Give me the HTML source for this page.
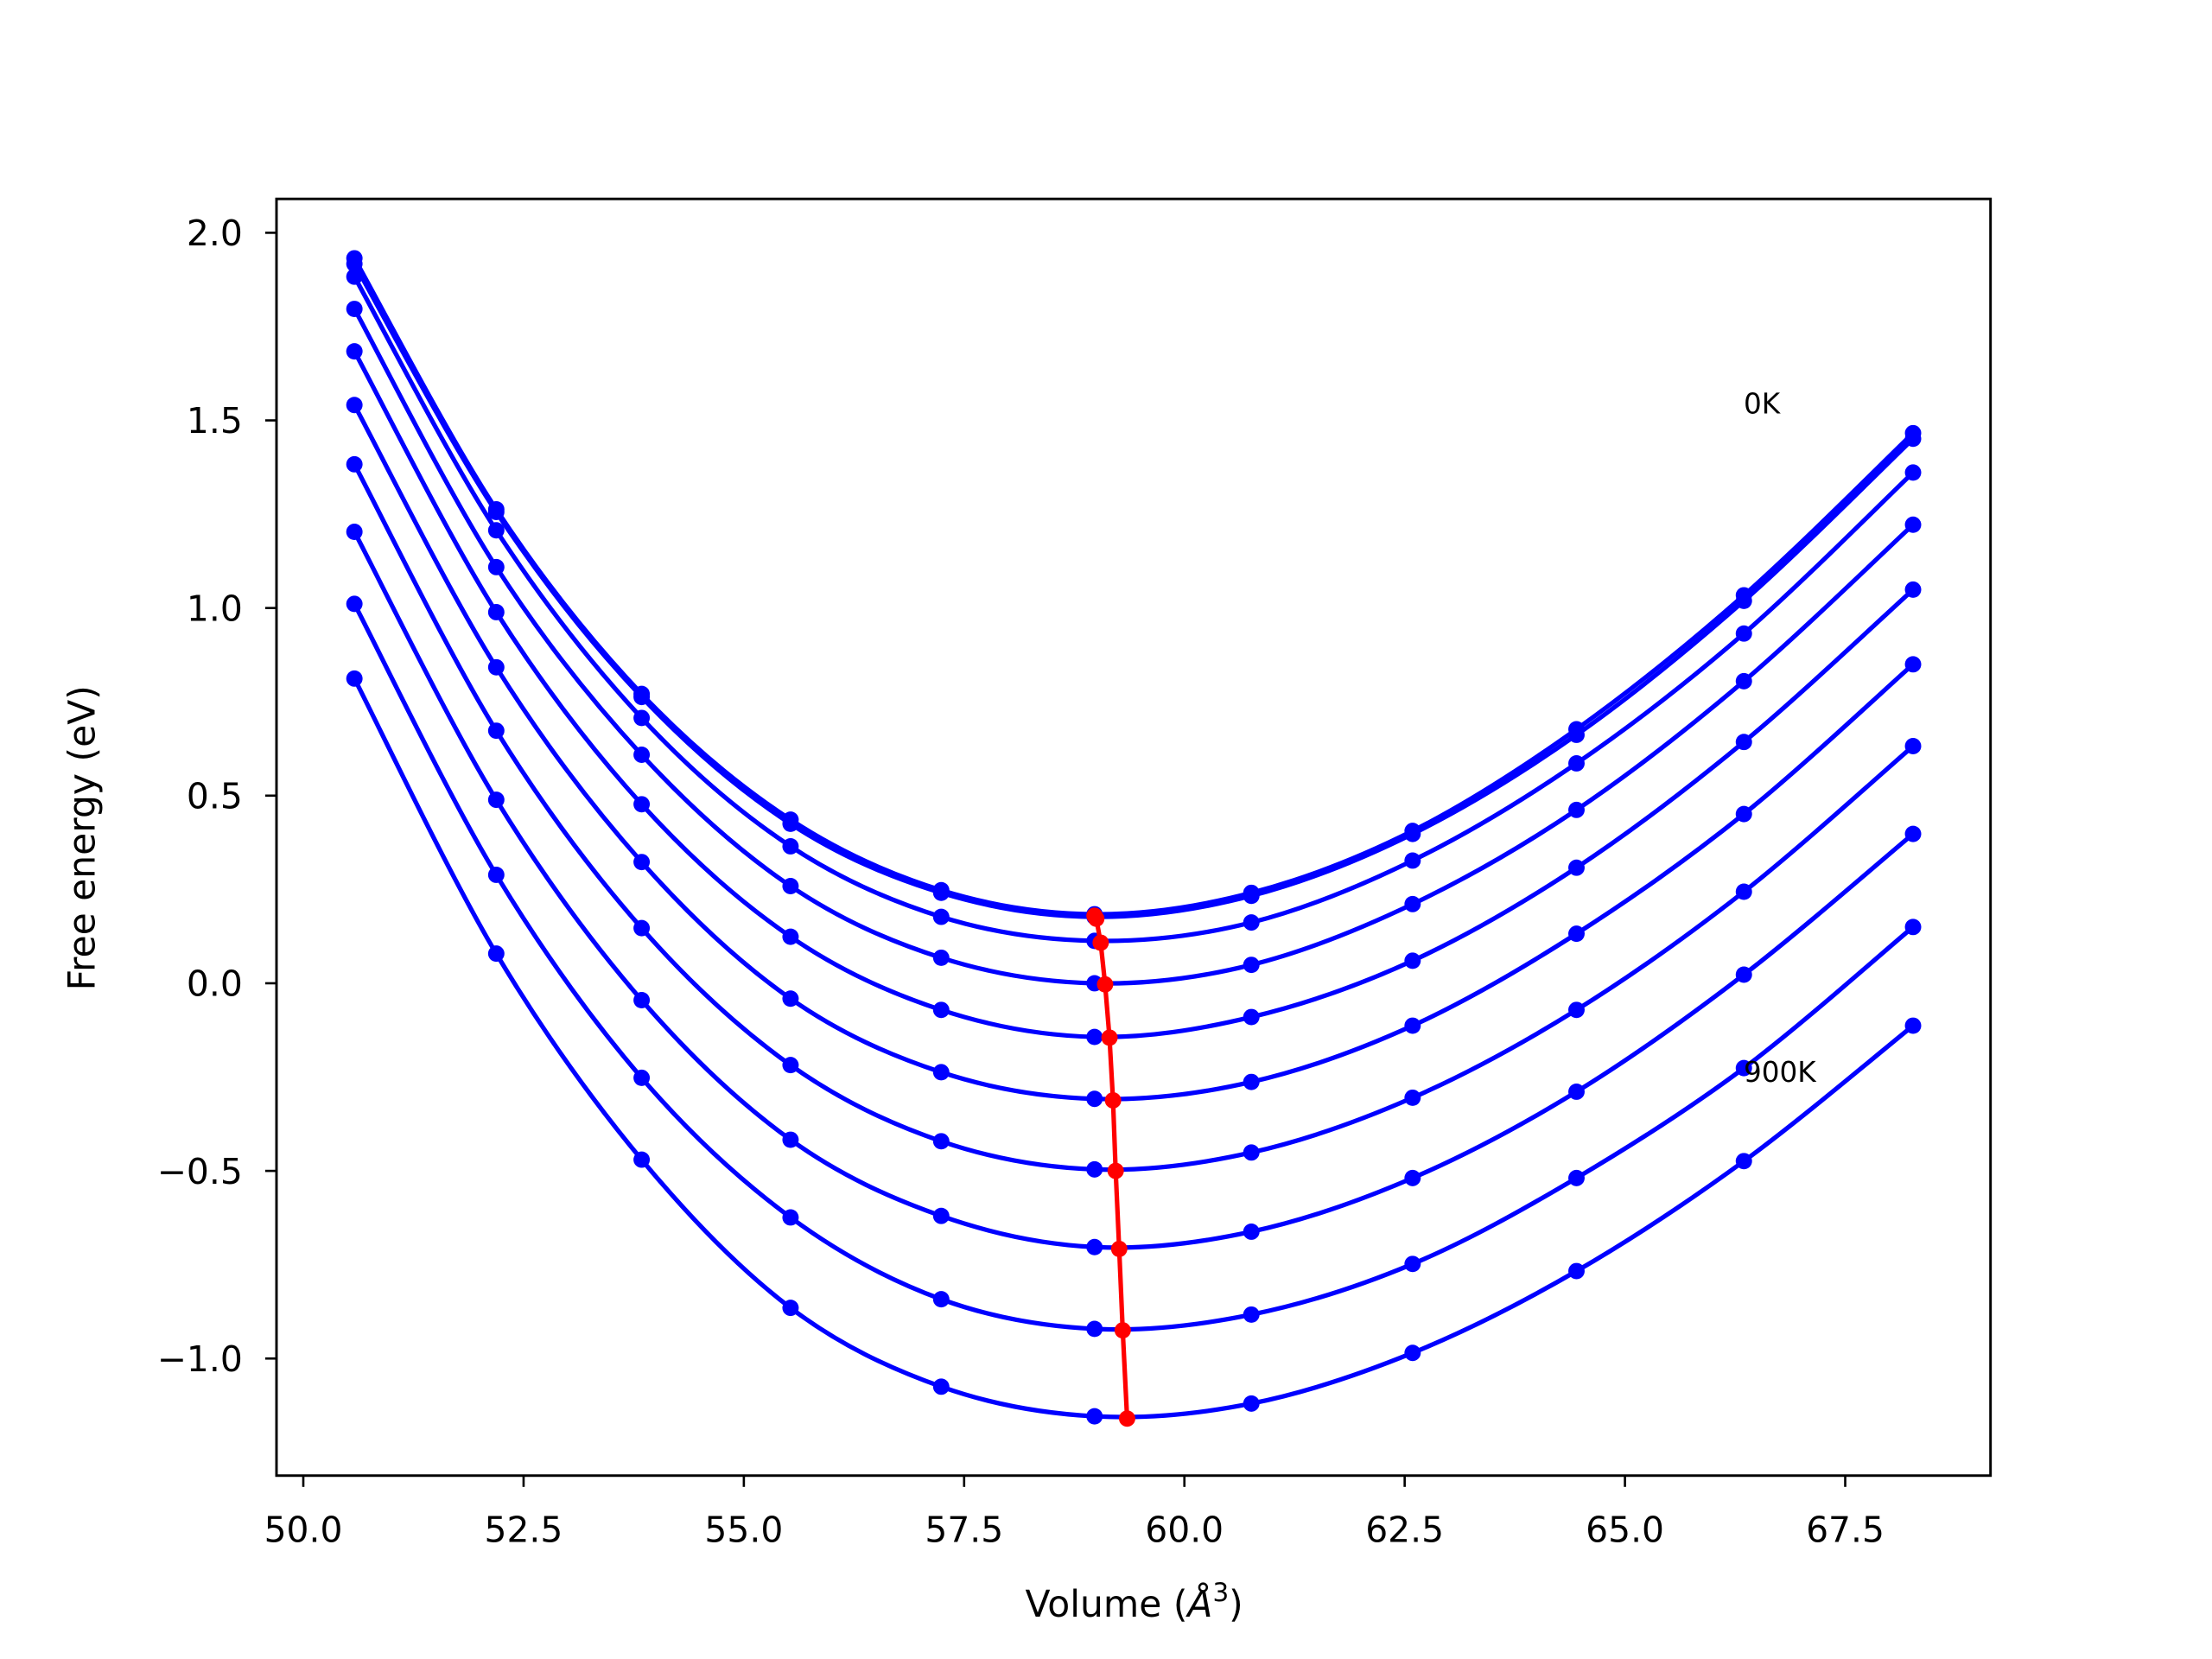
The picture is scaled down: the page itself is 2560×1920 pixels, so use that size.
<!DOCTYPE html>
<html><head><meta charset="utf-8"><style>
html,body{margin:0;padding:0;background:#fff}
svg{display:block}
text{font-family:"DejaVu Sans","Liberation Sans",sans-serif;fill:#000}
</style></head><body>
<svg id="chart" width="2560" height="1920" viewBox="0 0 1568 1176" xmlns="http://www.w3.org/2000/svg">
<rect x="0" y="0" width="1568" height="1176" fill="#fff"/>
<g id="plot"></g>
<rect x="196" y="141" width="1215" height="905" fill="none" stroke="#000" stroke-width="1.8"/>
<g id="xticks"></g>
<g id="yticks"></g>
<text x="804" y="1146" font-size="26" text-anchor="middle">Volume (<tspan font-style="italic">Å</tspan><tspan font-size="18" dy="-11">3</tspan><tspan dy="11">)</tspan></text>
<text x="0" y="0" font-size="26" text-anchor="middle" transform="translate(67,594) rotate(-90)">Free energy (eV)</text>
<text x="1236" y="293" font-size="20">0K</text>
<text x="1236" y="767" font-size="20">900K</text>
</svg>
<script>
const volumes=[50.58,52.19,53.84,55.53,57.24,58.98,60.76,62.59,64.45,66.35,68.27];
const temps=["0K","100K","200K","300K","400K","500K","600K","700K","800K","900K"];
const e0K=[1.932,1.263,0.771,0.436,0.248,0.184,0.241,0.406,0.677,1.034,1.466];
const e100K=[1.917,1.256,0.763,0.425,0.241,0.177,0.233,0.398,0.662,1.019,1.451];
const e200K=[1.883,1.207,0.707,0.365,0.177,0.113,0.162,0.327,0.586,0.932,1.361];
const e300K=[1.797,1.109,0.609,0.259,0.068,0.000,0.049,0.211,0.462,0.805,1.222];
const e400K=[1.684,0.989,0.477,0.124,-0.071,-0.143,-0.090,0.060,0.308,0.643,1.049];
const e500K=[1.541,0.842,0.323,-0.041,-0.237,-0.308,-0.263,-0.113,0.132,0.451,0.850];
const e600K=[1.383,0.673,0.147,-0.218,-0.421,-0.496,-0.451,-0.305,-0.071,0.244,0.632];
const e700K=[1.203,0.489,-0.045,-0.417,-0.620,-0.703,-0.662,-0.519,-0.289,0.023,0.398];
const e800K=[1.011,0.289,-0.252,-0.624,-0.842,-0.921,-0.883,-0.748,-0.519,-0.226,0.150];
const e900K=[0.812,0.079,-0.470,-0.865,-1.075,-1.154,-1.120,-0.985,-0.767,-0.474,-0.113];
const minVol=[58.98,59.0,59.05,59.1,59.15,59.19,59.22,59.26,59.3,59.35];
const minE=[0.180,0.172,0.108,-0.003,-0.145,-0.312,-0.500,-0.708,-0.925,-1.160];
const xTicks=[50.0,52.5,55.0,57.5,60.0,62.5,65.0,67.5];
const yTicks=[2.0,1.5,1.0,0.5,0.0,-0.5,-1.0];
const series=[e0K,e100K,e200K,e300K,e400K,e500K,e600K,e700K,e800K,e900K];

const NS="http://www.w3.org/2000/svg";
const X=v=>215+(v-50)*(1308-215)/17.5;
const Y=e=>165+(2-e)*(963-165)/3;
function mk(tag,attrs,parent){const el=document.createElementNS(NS,tag);for(const k in attrs)el.setAttribute(k,attrs[k]);parent.appendChild(el);return el;}
function smooth(pts){
  let d=`M${pts[0][0]},${pts[0][1]}`;
  for(let i=0;i<pts.length-1;i++){
    const p0=pts[Math.max(0,i-1)],p1=pts[i],p2=pts[i+1],p3=pts[Math.min(pts.length-1,i+2)];
    const c1=[p1[0]+(p2[0]-p0[0])/6,p1[1]+(p2[1]-p0[1])/6];
    const c2=[p2[0]-(p3[0]-p1[0])/6,p2[1]-(p3[1]-p1[1])/6];
    d+=` C${c1[0]},${c1[1]} ${c2[0]},${c2[1]} ${p2[0]},${p2[1]}`;
  }
  return d;
}
const plot=document.getElementById('plot');
series.forEach((s,i)=>{
  const g=mk('g',{},plot);
  
  
  const pts=volumes.map((v,j)=>[X(v),Y(s[j])]);
  const p=mk('path',{d:smooth(pts),fill:'none',stroke:'#0000ff','stroke-width':3.2},g);
  
  
  pts.forEach(pt=>{
    const c=mk('circle',{cx:pt[0],cy:pt[1],r:5.8,fill:'#0000ff'},g);
    
    
  });
});
const rg=mk('g',{},plot);


const rp=minVol.map((v,i)=>`${i?'L':'M'}${X(v)},${Y(minE[i])}`).join(' ');
mk('path',{d:rp,fill:'none',stroke:'#ff0000','stroke-width':3.2},rg);
minVol.forEach((v,i)=>{
  const c=mk('circle',{cx:X(v),cy:Y(minE[i]),r:5.8,fill:'#ff0000'},rg);
  
  
});
const xg=document.getElementById('xticks');
xTicks.forEach(t=>{
  const x=X(t);
  const l=mk('line',{x1:x,x2:x,y1:1046,y2:1054,stroke:'#000','stroke-width':1.6},xg);
  
  
  const tx=mk('text',{x:x,y:1093,'font-size':25,'text-anchor':'middle'},xg);
  tx.textContent=t.toFixed(1);
  
  
});
const yg=document.getElementById('yticks');
yTicks.forEach(t=>{
  const y=Y(t);
  const l=mk('line',{x1:188,x2:196,y1:y,y2:y,stroke:'#000','stroke-width':1.6},yg);
  
  
  const tx=mk('text',{x:172,y:y+9,'font-size':25,'text-anchor':'end'},yg);
  tx.textContent=(t<0?'\u2212':'')+Math.abs(t).toFixed(1);
  
  
});
</script>
</body></html>
